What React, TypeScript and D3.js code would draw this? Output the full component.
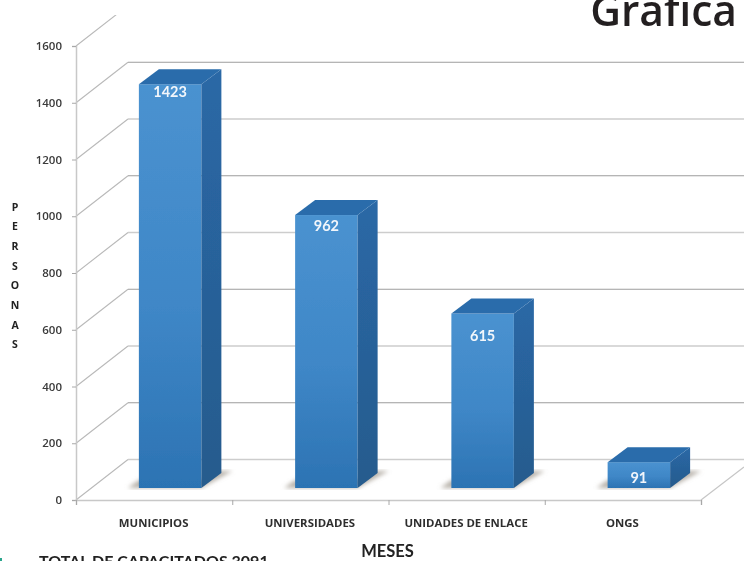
import React, { useEffect, useRef } from "react";
import * as d3 from "d3";

const categories = ["MUNICIPIOS", "UNIVERSIDADES", "UNIDADES DE ENLACE", "ONGS"];
const personas = [1423, 962, 615, 91];
const yTicks = [0, 200, 400, 600, 800, 1000, 1200, 1400, 1600];
const yLetters = ["P", "E", "R", "S", "O", "N", "A", "S"];

const width = 744;
const height = 561;
const depthX = 52; // floor depth of the 3d box
const depthY = 40.5;
const barDepthX = 20;
const barDepthY = 15;
const barOffsetX = 16; // bars stand a bit inside the floor
const barOffsetY = 12;
const labelDrop = [8, 11, 23, 16]; // distance of each value below the bar top

export default function App() {
  const svgRef = useRef<SVGSVGElement>(null);

  useEffect(() => {
    const svg = d3.select(svgRef.current);
    svg.selectAll("*").remove();

    const x = d3.scaleBand().domain(categories).range([76, 701]).paddingInner(0.6).paddingOuter(0.3);
    const y = d3.scaleLinear().domain([0, 1600]).range([500, 46]);

    const defs = svg.append("defs");
    const front = defs.append("linearGradient").attr("id", "front").attr("x1", 0).attr("x2", 0).attr("y1", 0).attr("y2", 1);
    front.append("stop").attr("offset", "0%").attr("stop-color", "#4a92d0");
    front.append("stop").attr("offset", "55%").attr("stop-color", "#3f87c7");
    front.append("stop").attr("offset", "100%").attr("stop-color", "#2c73b3");
    const side = defs.append("linearGradient").attr("id", "side").attr("x1", 0).attr("x2", 0).attr("y1", 0).attr("y2", 1);
    side.append("stop").attr("offset", "0%").attr("stop-color", "#2a68a6");
    side.append("stop").attr("offset", "100%").attr("stop-color", "#265b8d");
    defs.append("filter").attr("id", "soft").append("feGaussianBlur").attr("stdDeviation", 0.55);
    defs.append("filter").attr("id", "shadow").attr("x", "-30%").attr("width", "160%").append("feGaussianBlur").attr("stdDeviation", 2.2);
    defs.append("clipPath").attr("id", "wall").append("rect").attr("x", 0).attr("y", 15).attr("width", width).attr("height", height);

    const chart = svg.append("g").attr("filter", "url(#soft)");

    // walls: the horizontal lines alternate between thin dark and wide light
    const grid = chart.append("g").attr("clip-path", "url(#wall)").attr("fill", "none");
    grid
      .selectAll("path.side")
      .data(yTicks)
      .join("path")
      .attr("class", "side")
      .attr("stroke", "#b9b9b9")
      .attr("stroke-width", 1.1)
      .attr("d", (d) =>
        d3.line()([
          [76, y(d)],
          [76 + depthX, y(d) - depthY],
        ])
      );
    grid
      .selectAll("path.back")
      .data(yTicks)
      .join("path")
      .attr("class", "back")
      .attr("stroke", (d, i) => (i % 2 ? "#9d9d9d" : "#cdcdcd"))
      .attr("stroke-width", (d, i) => (i % 2 ? 1 : 1.7))
      .attr("d", (d) =>
        d3.line()([
          [76 + depthX, y(d) - depthY],
          [width, y(d) - depthY],
        ])
      );
    chart
      .append("path")
      .attr("fill", "none")
      .attr("stroke", "#c6c6c6")
      .attr("stroke-width", 1.2)
      .attr("d", d3.line()([[701, y(0)], [width, y(0) - 33]]));

    const yAxis = d3.axisLeft(y).tickValues(yTicks).tickSize(4).tickPadding(10).tickFormat(d3.format("d"));
    const yg = chart.append("g").attr("transform", "translate(76,0)").call(yAxis);
    const xAxis = d3
      .axisBottom(d3.scaleLinear().domain([0, categories.length]).range([76, 701]))
      .ticks(categories.length)
      .tickSize(5)
      .tickFormat(() => "");
    const xg = chart.append("g").attr("transform", `translate(0,${y(0)})`).call(xAxis);
    yg.select(".domain").attr("stroke", "#c8c8c8").attr("stroke-width", 1.5);
    yg.selectAll(".tick line").attr("stroke", "#a8a8a8").attr("stroke-width", 1);
    xg.select(".domain").attr("stroke", "#c8c8c8").attr("stroke-width", 1.5);
    xg.selectAll(".tick line").attr("stroke", "#a8a8a8").attr("stroke-width", 1);
    yg.selectAll("text")
      .attr("font-family", "Open Sans")
      .attr("font-size", 11.5)
      .attr("font-weight", 600)
      .attr("fill", "#3a3a3a");

    chart
      .append("g")
      .selectAll("text")
      .data(categories)
      .join("text")
      .attr("x", (d) => x(d)! + x.bandwidth() / 2 - 0.5)
      .attr("y", 527)
      .attr("text-anchor", "middle")
      .attr("font-family", "Open Sans")
      .attr("font-size", 11.4)
      .attr("font-weight", 700)
      .attr("fill", "#2f2f2f")
      .text((d) => d);

    // bars
    const bars = chart
      .append("g")
      .selectAll("g")
      .data(personas)
      .join("g")
      .attr("transform", (d, i) => `translate(${x(categories[i])! + barOffsetX},${-barOffsetY})`);

    const w = x.bandwidth();
    bars
      .append("path")
      .attr("fill", "#b8b2aa")
      .attr("filter", "url(#shadow)")
      .attr("d", () =>
        d3.line()([
          [-11, y(0)],
          [0, y(0) - 8],
          [w, y(0) - 8],
          [w + 14, y(0) - barDepthY - 2],
          [w + barDepthX + 11, y(0) - barDepthY - 2],
          [w, y(0)],
        ])
      );
    bars
      .append("rect")
      .attr("x", 0)
      .attr("y", (d) => y(d))
      .attr("width", w)
      .attr("height", (d) => y(0) - y(d))
      .attr("fill", "url(#front)");
    bars
      .append("path")
      .attr("fill", "url(#side)")
      .attr("d", (d) =>
        d3.line()([
          [w, y(d)],
          [w + barDepthX, y(d) - barDepthY],
          [w + barDepthX, y(0) - barDepthY],
          [w, y(0)],
        ])
      );
    bars
      .append("path")
      .attr("fill", "#2a6cab")
      .attr("d", (d) =>
        d3.line()([
          [0, y(d)],
          [barDepthX, y(d) - barDepthY],
          [w + barDepthX, y(d) - barDepthY],
          [w, y(d)],
        ])
      );
    bars
      .append("text")
      .attr("x", w / 2)
      .attr("y", (d, i) => y(d) + labelDrop[i] + 5)
      .attr("text-anchor", "middle")
      .attr("font-family", "Lato")
      .attr("font-size", 14.5)
      .attr("font-weight", 700)
      .attr("fill", "#f2f6fb")
      .text((d) => d);

    // axis titles
    chart
      .append("g")
      .selectAll("text")
      .data(yLetters)
      .join("text")
      .attr("x", 15)
      .attr("y", (d, i) => 210.5 + i * 19.7)
      .attr("text-anchor", "middle")
      .attr("font-family", "Open Sans")
      .attr("font-size", 10.5)
      .attr("font-weight", 700)
      .attr("fill", "#222")
      .text((d) => d);
    chart
      .append("text")
      .attr("x", 387.5)
      .attr("y", 557)
      .attr("text-anchor", "middle")
      .attr("font-family", "Lato")
      .attr("font-size", 16.5)
      .attr("font-weight", 700)
      .attr("fill", "#222")
      .text("MESES");
    chart
      .append("text")
      .attr("x", 39)
      .attr("y", 567)
      .attr("font-family", "Lato")
      .attr("font-size", 16)
      .attr("font-weight", 700)
      .attr("fill", "#222")
      .text("TOTAL DE CAPACITADOS 3091");

    // scrap of the page's next element, bottom left corner
    svg.append("rect").attr("x", 0).attr("y", 558).attr("width", 2).attr("height", 3).attr("fill", "#2aa58c");

    svg
      .append("text")
      .attr("x", 737)
      .attr("y", 26)
      .attr("text-anchor", "end")
      .attr("font-family", "Open Sans")
      .attr("font-size", 42.5)
      .attr("font-weight", 600)
      .attr("fill", "#231f20")
      .text("Gráfica");
  }, []);

  return (
    <svg
      ref={svgRef}
      width={width}
      height={height}
      style={{ position: "absolute", left: 0, top: 0, background: "#fff" }}
    />
  );
}
